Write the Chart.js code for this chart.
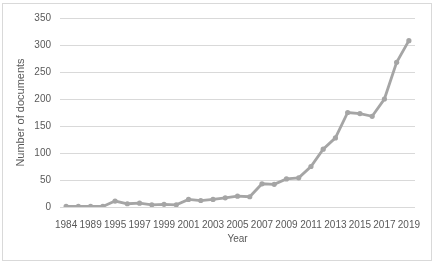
<!DOCTYPE html>
<html lang="en">
<head>
  <meta charset="UTF-8">
  <title>Number of documents per year</title>
  <script src="https://cdn.jsdelivr.net/npm/chart.js"></script>
  <style>
    body {
      margin: 0;
      background-color: #fff;
    }

    #wrap {
      width: 436px;
      height: 264px;
    }
  </style>
</head>
<body>
<div id="wrap">
  <canvas id="docsChart" width="436" height="264"></canvas>
</div>

<script>
    const years = ['1984', '1987', '1989', '1993', '1995', '1996', '1997', '1998', '1999', '2000',
        '2001', '2002', '2003', '2004', '2005', '2006', '2007', '2008', '2009', '2010',
        '2011', '2012', '2013', '2014', '2015', '2016', '2017', '2018', '2019'];
    const documents = [1, 1, 1, 1, 11, 6, 7, 4, 5, 4,
        14, 12, 14, 17, 20, 19, 43, 42, 52, 54,
        75, 107, 128, 175, 173, 168, 200, 268, 308];
    const yTicks = [0, 50, 100, 150, 200, 250, 300, 350];

    const textColor = '#595959';
    const lineColor = '#a5a5a5';

    // light border round the whole chart, like the spreadsheet frame
    const frame = {
        id: 'frame',
        beforeDraw(chart) {
            const ctx = chart.ctx;
            ctx.save();
            ctx.fillStyle = '#fff';
            ctx.fillRect(0, 0, chart.width, chart.height);
            ctx.strokeStyle = '#d9d9d9';
            ctx.lineWidth = 1;
            ctx.strokeRect(2.5, 3.5, 429, 257);
            ctx.restore();
        }
    };

    Chart.defaults.font.family = '"Liberation Sans", Arial, sans-serif';
    Chart.defaults.font.size = 10;
    Chart.defaults.color = textColor;

    new Chart(document.getElementById('docsChart').getContext('2d'), {
        type: 'line',
        data: {
            labels: years,
            datasets: [{
                label: 'Number of documents',
                data: documents,
                borderColor: lineColor,
                backgroundColor: lineColor,
                borderWidth: 2.8,
                pointRadius: 2.6,
                pointBorderWidth: 0,
                pointHoverRadius: 3,
                tension: 0
            }]
        },
        plugins: [frame],
        options: {
            responsive: false,
            animation: false,
            layout: {
                padding: {top: 18, right: 21, left: 6, bottom: 0}
            },
            plugins: {
                legend: {display: false},
                tooltip: {enabled: false}
            },
            scales: {
                x: {
                    offset: true,
                    grid: {display: false},
                    border: {display: false},
                    ticks: {
                        autoSkip: false,
                        maxRotation: 0,
                        padding: 4,
                        callback: function (value, index) {
                            return index % 2 === 0 ? years[index] : '';
                        }
                    },
                    title: {
                        display: true,
                        text: 'Year',
                        color: textColor,
                        font: {size: 10},
                        padding: {top: 4, bottom: 19}
                    },
                    afterFit(scale) {
                        scale.height = 57;
                    }
                },
                y: {
                    min: 0,
                    max: 350,
                    afterBuildTicks(scale) {
                        scale.ticks = yTicks.map(v => ({value: v}));
                    },
                    grid: {color: '#d9d9d9', lineWidth: 1, drawTicks: false},
                    border: {display: false},
                    ticks: {padding: 9},
                    title: {
                        display: true,
                        text: 'Number of documents',
                        color: textColor,
                        font: {size: 11},
                        padding: {top: 8, bottom: 0}
                    },
                    afterFit(scale) {
                        scale.width = 54;
                    }
                }
            }
        }
    });
</script>
</body>
</html>
